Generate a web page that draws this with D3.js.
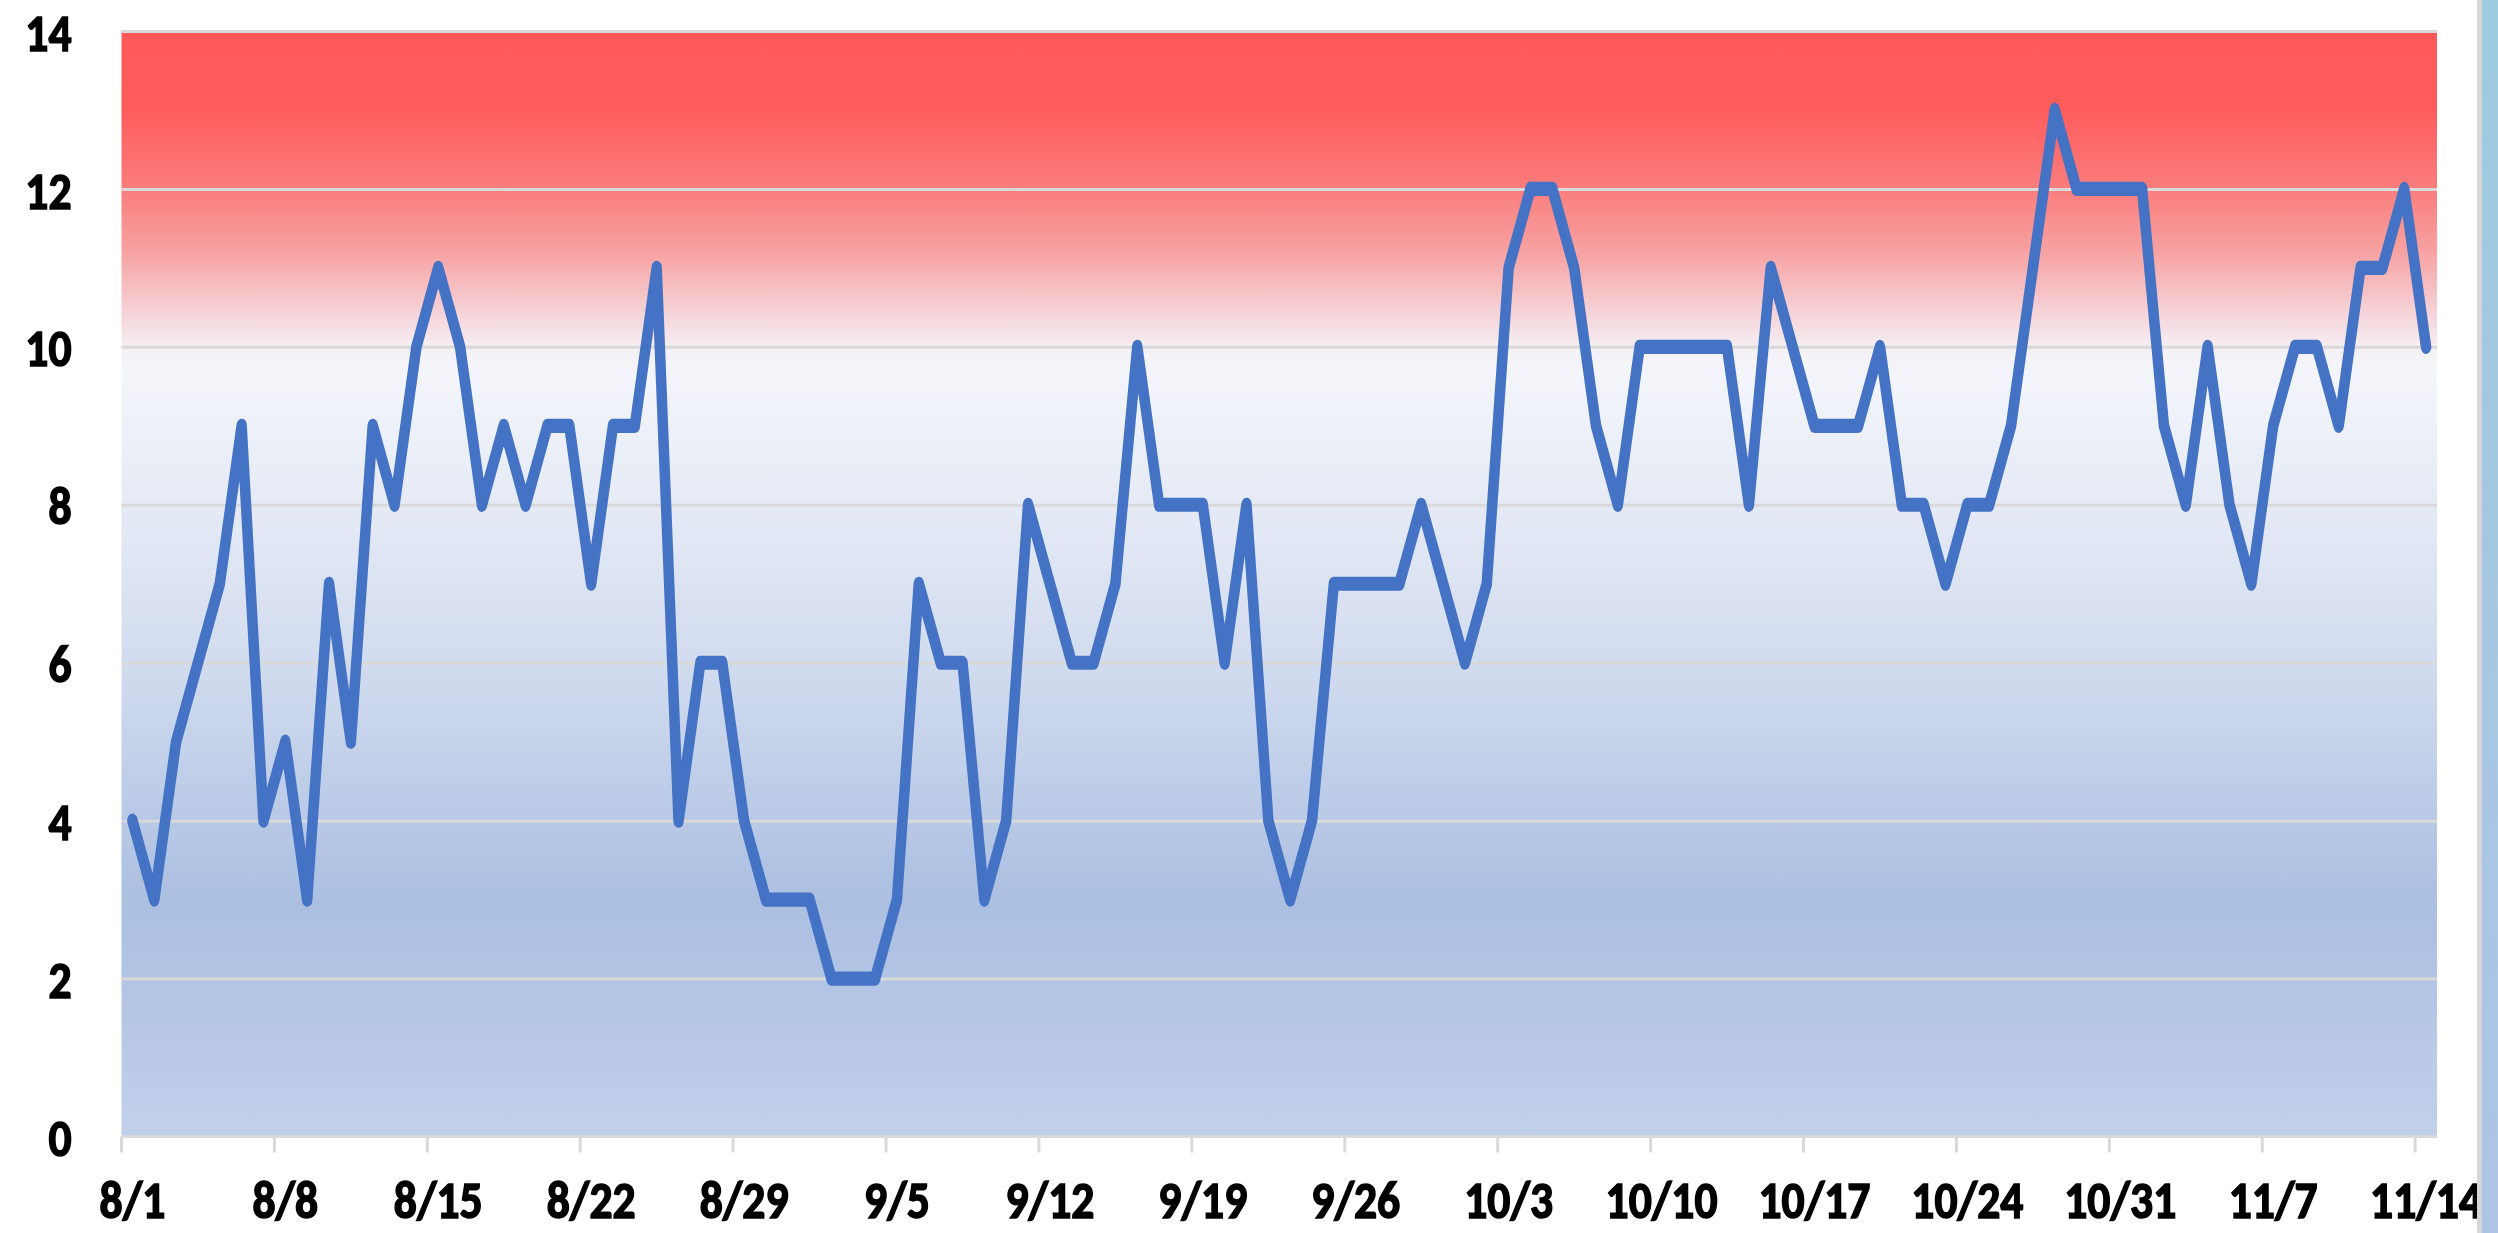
<!DOCTYPE html>
<html>
<head>
  <meta charset="utf-8">
  <title>D3.js Chart</title>
  <script src="https://d3js.org/d3.v7.min.js"></script>
  <style>
    body {
      margin: 0;
      background-color: white;
    }
    svg {
      display: block;
    }
  </style>
</head>
<body>
  <div id="chart"></div>
  <script>
    // Daily values from 8/1 to 11/14
    var startDate = "2023-08-01";
    var values = [
      4, 3, 5, 6, 7, 9, 4, 5, 3, 7,
      5, 9, 8, 10, 11, 10, 8, 9, 8, 9,
      9, 7, 9, 9, 11, 4, 6, 6, 4, 3,
      3, 3, 2, 2, 2, 3, 7, 6, 6, 3,
      4, 8, 7, 6, 6, 7, 10, 8, 8, 8,
      6, 8, 4, 3, 4, 7, 7, 7, 7, 8,
      7, 6, 7, 11, 12, 12, 11, 9, 8, 10,
      10, 10, 10, 10, 8, 11, 10, 9, 9, 9,
      10, 8, 8, 7, 8, 8, 9, 11, 13, 12,
      12, 12, 12, 9, 8, 10, 8, 7, 9, 10,
      10, 9, 11, 11, 12, 10
    ];
    var yTicks = [0, 2, 4, 6, 8, 10, 12, 14];
    var labelEvery = 7;

    // Background gradient stops (offset from top of plot)
    var bgStops = [
      [0.00, "#ff5a5a"],
      [0.07, "#ff5c5c"],
      [0.14, "#fa7b7b"],
      [0.20, "#f7a2a2"],
      [0.255, "#f5d3d8"],
      [0.29, "#f5f2f6"],
      [0.31, "#f3f5fa"],
      [0.43, "#e5eaf5"],
      [0.57, "#d2dcef"],
      [0.79, "#abbfe1"],
      [1.00, "#c2d0ea"]
    ];

    function d3jschart() {
      // Set up margins and dimensions
      var W = 2498, H = 1233;
      var margin = { top: 31, right: 61, bottom: 96.5, left: 121.5 },
        width = W - margin.left - margin.right,
        height = H - margin.top - margin.bottom;

      var parse = d3.timeParse("%Y-%m-%d");
      var fmt = d3.timeFormat("%-m/%-d");
      var d0 = parse(startDate);
      var days = values.map((v, i) => fmt(d3.timeDay.offset(d0, i)));

      var x = d3.scaleBand().domain(days).range([0, width]).padding(0);
      var y = d3.scaleLinear().domain([0, 14]).range([height, 0]);
      var bw = x.bandwidth();

      // the source picture is stretched vertically, so the pen is taller than wide
      var stretch = 1.35;
      var yLine = d3.scaleLinear().domain([0, 14]).range([height / stretch, 0]);

      const svg = d3.select("#chart").append("svg")
        .attr("width", W)
        .attr("height", H);

      const defs = svg.append("defs");
      const grad = defs.append("linearGradient")
        .attr("id", "bg")
        .attr("x1", 0).attr("y1", 0).attr("x2", 0).attr("y2", 1);
      grad.selectAll("stop").data(bgStops).enter().append("stop")
        .attr("offset", d => d[0])
        .attr("stop-color", d => d[1]);

      const side = defs.append("linearGradient")
        .attr("id", "side")
        .attr("x1", 0).attr("y1", 0).attr("x2", 0).attr("y2", 1);
      side.append("stop").attr("offset", 0).attr("stop-color", "#9ecbe0");
      side.append("stop").attr("offset", 1).attr("stop-color", "#aec4e5");

      const g = svg.append("g")
        .attr("transform", `translate(${margin.left},${margin.top})`);

      // Plot background
      g.append("rect")
        .attr("width", width)
        .attr("height", height)
        .attr("fill", "url(#bg)");

      // Horizontal gridlines
      g.append("g")
        .attr("class", "grid")
        .call(d3.axisLeft(y).tickValues(yTicks.filter(t => t > 0)).tickSize(-width).tickFormat(""))
        .call(s => s.select(".domain").remove())
        .call(s => s.selectAll("line").attr("stroke", "#d9d9d9").attr("stroke-width", 3));

      var font = "Carlito, Calibri, Lato, sans-serif";
      var sx = 0.86;

      function styleText(sel) {
        sel.attr("fill", "#000")
          .attr("stroke", "#000")
          .attr("stroke-width", 1.6)
          .attr("font-family", font)
          .attr("font-weight", "bold")
          .attr("font-size", 53);
      }

      // Y axis labels
      g.append("g")
        .call(d3.axisLeft(y).tickValues(yTicks).tickSize(0).tickPadding(0))
        .call(s => s.select(".domain").remove())
        .call(s => s.selectAll("text")
          .attr("x", -50 / sx)
          .attr("dy", "0.36em")
          .attr("transform", `scale(${sx},1)`)
          .call(styleText));

      // X axis: ticks at week boundaries, labels at category centers
      var tickDays = days.filter((d, i) => i % labelEvery === 0);
      const xa = g.append("g")
        .attr("transform", `translate(0,${height})`)
        .call(d3.axisBottom(x).tickValues(tickDays).tickSize(16).tickPadding(0))
        .call(s => s.select(".domain")
          .attr("d", `M0,0H${width}`)
          .attr("stroke", "#d9d9d9")
          .attr("stroke-width", 3));
      xa.selectAll(".tick line")
        .attr("x1", -bw / 2).attr("x2", -bw / 2)
        .attr("stroke", "#d9d9d9")
        .attr("stroke-width", 3);
      xa.selectAll(".tick text")
        .attr("y", 0)
        .attr("dy", "0")
        .attr("transform", `translate(0,81) scale(${sx},1)`)
        .call(styleText);

      // Data line
      var line = d3.line()
        .x((d, i) => x(days[i]) + bw / 2)
        .y(d => yLine(d));

      g.append("g")
        .attr("transform", `scale(1,${stretch})`)
        .append("path")
        .datum(values)
        .attr("d", line)
        .attr("fill", "none")
        .attr("stroke", "#4472c4")
        .attr("stroke-width", 10.5)
        .attr("stroke-linejoin", "round")
        .attr("stroke-linecap", "round");

      // Window edge on the right
      svg.append("rect")
        .attr("x", 2477).attr("y", 0)
        .attr("width", 5).attr("height", H)
        .attr("fill", "#d6d6d6");
      svg.append("rect")
        .attr("x", 2482).attr("y", 0)
        .attr("width", 16).attr("height", H)
        .attr("fill", "url(#side)");
    }

    d3jschart();
  </script>
</body>
</html>
